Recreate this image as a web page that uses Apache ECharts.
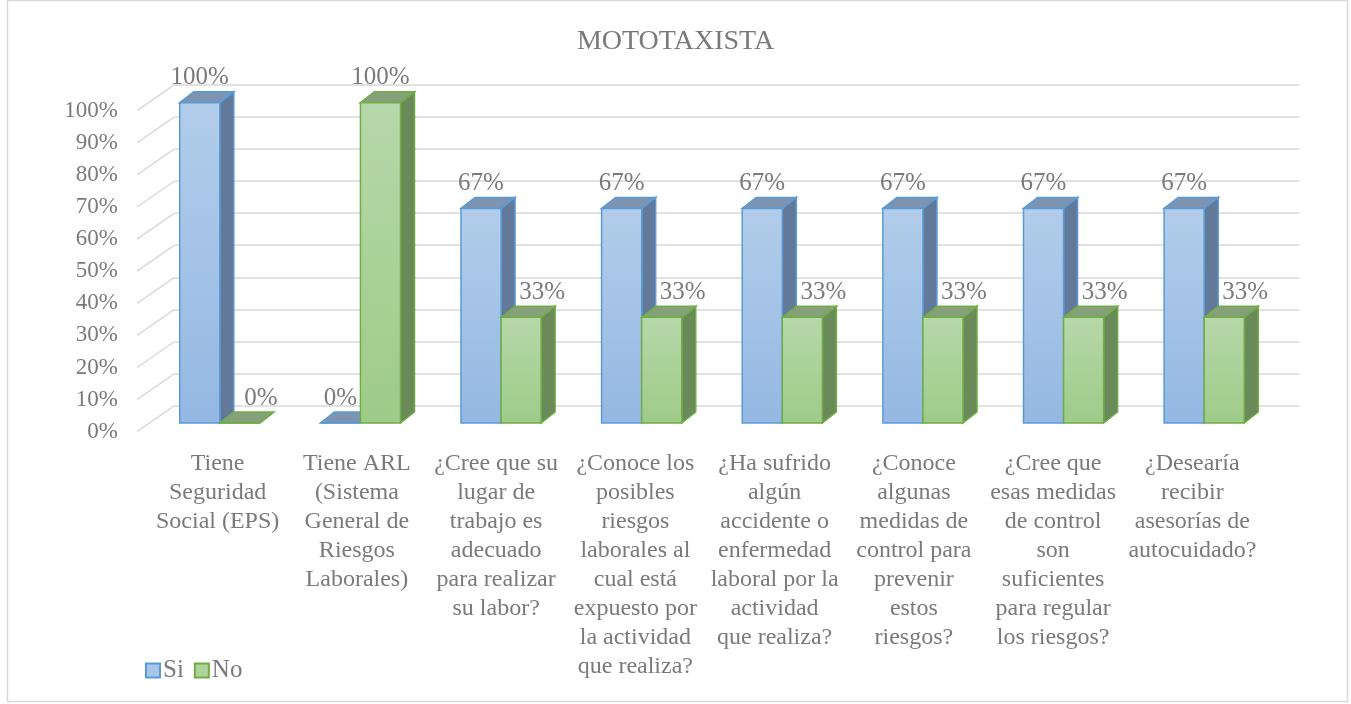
<!DOCTYPE html>
<html>
<head>
<meta charset="utf-8">
<script src="https://cdn.jsdelivr.net/npm/echarts@6/dist/echarts.min.js"></script>
<style>
  html, body { margin: 0; padding: 0; background: #fff; }
  #chart { width: 1351px; height: 704px; }
</style>
</head>
<body>
<div id="chart"></div>
<script>
// datos
var categorias = [
  'Tiene\nSeguridad\nSocial (EPS)',
  'Tiene ARL\n(Sistema\nGeneral de\nRiesgos\nLaborales)',
  '¿Cree que su\nlugar de\ntrabajo es\nadecuado\npara realizar\nsu labor?',
  '¿Conoce los\nposibles\nriesgos\nlaborales al\ncual está\nexpuesto por\nla actividad\nque realiza?',
  '¿Ha sufrido\nalgún\naccidente o\nenfermedad\nlaboral por la\nactividad\nque realiza?',
  '¿Conoce\nalgunas\nmedidas de\ncontrol para\nprevenir\nestos\nriesgos?',
  '¿Cree que\nesas medidas\nde control\nson\nsuficientes\npara regular\nlos riesgos?',
  '¿Desearía\nrecibir\nasesorías de\nautocuidado?'
];
var valoresSi = [100, 0, 67, 67, 67, 67, 67, 67];
var valoresNo = [0, 100, 33, 33, 33, 33, 33, 33];
var ticksY = [0, 10, 20, 30, 40, 50, 60, 70, 80, 90, 100];

var FUENTE = 'Liberation Serif';
var GRIS = '#7a7a7a';

// colores de las barras
var estiloSi = { top: '#b2cdea', bottom: '#94b8e3', side: '#62799a', cap: '#7c93b1', border: '#5b9bd5' };
var estiloNo = { top: '#b7d8aa', bottom: '#9ecb88', side: '#6a8a5a', cap: '#86a179', border: '#70ad47' };

function barra3D(estilo, esSi) {
  return function (params, api) {
    var idx = api.value(0);
    var val = api.value(1);
    var base = api.coord([idx, 0]);
    var tope = api.coord([idx, val]);
    var banda = api.size([1, 0])[0];
    var w = banda * 0.285;
    var x0 = esSi ? base[0] - w : base[0];
    var y0 = tope[1], y1 = base[1];
    var dx = 14, dy = -11;
    var h = Math.max(y1 - y0, 0);
    // desplazar etiqueta del "No" si la barra "Si" es mas alta
    var corr = 0;
    if (!esSi && valoresSi[idx] > val) corr = 21;
    return {
      type: 'group',
      children: [
        {
          type: 'polygon',
          shape: { points: [[x0 + w, y0], [x0 + w + dx, y0 + dy], [x0 + w + dx, y1 + dy], [x0 + w, y1]] },
          style: { fill: estilo.side, stroke: estilo.border, lineWidth: 1.5 }
        },
        {
          type: 'polygon',
          shape: { points: [[x0, y0], [x0 + dx, y0 + dy], [x0 + w + dx, y0 + dy], [x0 + w, y0]] },
          style: { fill: estilo.cap, stroke: estilo.border, lineWidth: 1.5 }
        },
        {
          type: 'rect',
          shape: { x: x0, y: y0, width: w, height: h },
          style: {
            fill: new echarts.graphic.LinearGradient(0, 0, 0, 1, [
              { offset: 0, color: estilo.top },
              { offset: 1, color: estilo.bottom }
            ]),
            stroke: estilo.border, lineWidth: 1.5
          }
        },
        {
          type: 'text',
          x: x0 + w / 2 + corr,
          y: y0 - 25,
          style: {
            text: val + '%',
            fill: GRIS,
            font: '25px "' + FUENTE + '"',
            align: 'center',
            verticalAlign: 'middle'
          }
        }
      ]
    };
  };
}

function initGrafico() {
  var chart = echarts.init(document.getElementById('chart'));
  var ejeCat = function (grid, mostrar) {
    return {
      type: 'category', gridIndex: grid, data: categorias,
      axisLine: { show: false }, axisTick: { show: false },
      axisLabel: mostrar ? {
        show: true, interval: 0, margin: 26, color: GRIS,
        fontFamily: FUENTE, fontSize: 24, lineHeight: 29, align: 'center'
      } : { show: false }
    };
  };
  var ejeVal = function (grid, etiquetas, lineas) {
    return {
      type: 'value', gridIndex: grid, min: 0, max: 100, interval: 10,
      axisLine: { show: false }, axisTick: { show: false },
      axisLabel: etiquetas ? {
        show: true, formatter: '{value}%', color: GRIS,
        fontFamily: FUENTE, fontSize: 23, margin: 19
      } : { show: false },
      splitLine: lineas ? { show: true, lineStyle: { color: '#d9d9d9', width: 1.5 } } : { show: false }
    };
  };
  var option = {
    animation: false,
    title: {
      text: 'MOTOTAXISTA', left: 'center', top: 23,
      textStyle: { fontFamily: FUENTE, fontSize: 28, fontWeight: 'normal', color: GRIS }
    },
    graphic: [{
      type: 'rect', shape: { x: 7.5, y: 0.5, width: 1340, height: 701 },
      style: { fill: 'none', stroke: '#d9d9d9', lineWidth: 1.5 }, silent: true, z: -10
    }],
    legend: {
      data: ['Si', 'No'], left: 140, top: 653, icon: 'rect',
      itemWidth: 14, itemHeight: 14, itemGap: 10,
      textStyle: { fontFamily: FUENTE, fontSize: 25, color: GRIS, padding: [0, 0, 0, -2] }
    },
    grid: [
      { left: 137, width: 1125, top: 110.7, bottom: 272.3 },   // plano frontal (eje Y)
      { left: 174.5, width: 1125, top: 84.7, bottom: 298.3 },  // pared del fondo
      { left: 149.5, width: 1125, top: 102.7, bottom: 281 },   // plano de barras
      { left: 148, width: 1114, top: 102.7, bottom: 281 }      // etiquetas de categoria
    ],
    xAxis: [ejeCat(0, false), ejeCat(1, false), ejeCat(2, false), ejeCat(3, true)],
    yAxis: [ejeVal(0, true, false), ejeVal(1, false, true), ejeVal(2, false, false), ejeVal(3, false, false)],
    series: [
      {
        type: 'custom', xAxisIndex: 0, yAxisIndex: 0, silent: true,
        data: ticksY.map(function (t) { return [0, t]; }),
        renderItem: function (params, api) {
          var y = api.coord([0, api.value(1)])[1];
          var x = params.coordSys.x;
          return {
            type: 'line',
            shape: { x1: x, y1: y, x2: x + 37.5, y2: y - 26 },
            style: { stroke: '#d9d9d9', lineWidth: 1.5 }
          };
        }
      },
      {
        name: 'Si', type: 'custom', xAxisIndex: 2, yAxisIndex: 2, clip: false,
        itemStyle: { color: '#a9c6ea', borderColor: estiloSi.border, borderWidth: 2 },
        data: valoresSi.map(function (v, i) { return [i, v]; }),
        renderItem: barra3D(estiloSi, true)
      },
      {
        name: 'No', type: 'custom', xAxisIndex: 2, yAxisIndex: 2, clip: false,
        itemStyle: { color: '#acd39a', borderColor: estiloNo.border, borderWidth: 2 },
        data: valoresNo.map(function (v, i) { return [i, v]; }),
        renderItem: barra3D(estiloNo, false)
      }
    ]
  };
  chart.setOption(option);
}

initGrafico();
</script>
</body>
</html>
